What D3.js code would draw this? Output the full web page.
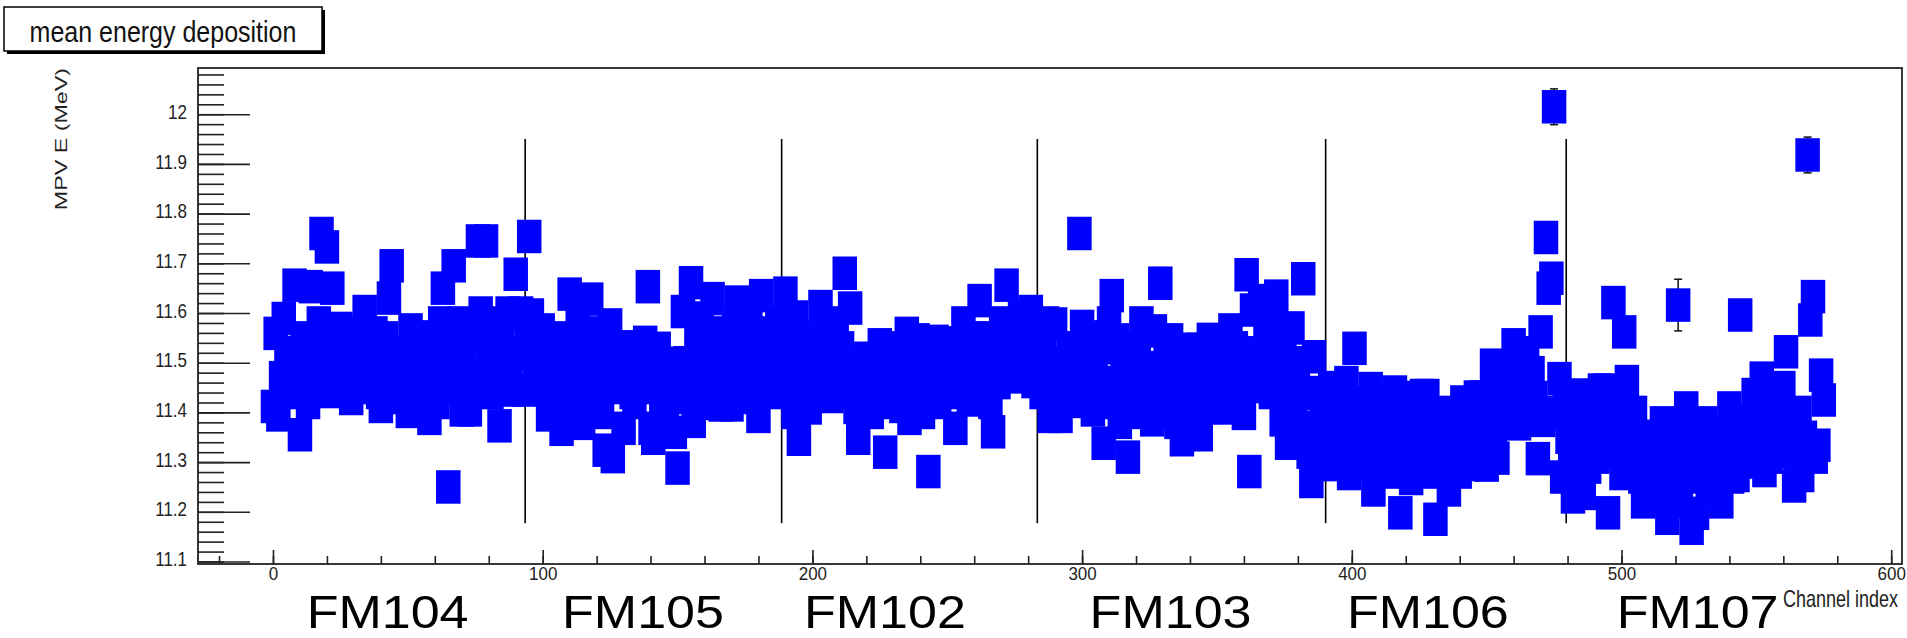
<!DOCTYPE html>
<html>
<head>
<meta charset="utf-8">
<script src="https://cdnjs.cloudflare.com/ajax/libs/d3/7.8.5/d3.min.js"></script>
<style>
  body { margin: 0; background: #fff; }
  svg { display: block; }
  text { font-family: "Liberation Sans", Arial, Helvetica, sans-serif; }
</style>
</head>
<body>
<svg id="chart" width="1907" height="638"></svg>
<script>
// MPV of the energy deposit per channel, 12 channels per row
const mpv = [
  11.412, 11.559, 11.395, 11.47, 11.589, 11.52, 11.44, 11.50, 11.656, 11.46, 11.355, 11.55,   // 0
  11.48, 11.42, 11.653, 11.52, 11.45, 11.58, 11.760, 11.49, 11.733, 11.442, 11.650, 11.53,   // 12
  11.47, 11.569, 11.50, 11.45, 11.54, 11.428, 11.49, 11.56, 11.46, 11.52, 11.603, 11.45,     // 24
  11.53, 11.48, 11.56, 11.44, 11.412, 11.50, 11.55, 11.630, 11.695, 11.47, 11.43, 11.52,     // 36
  11.45, 11.50, 11.402, 11.566, 11.46, 11.51, 11.43, 11.49, 11.552, 11.44, 11.388, 11.47,    // 48
  11.52, 11.42, 11.58, 11.650, 11.47, 11.250, 11.53, 11.695, 11.45, 11.58, 11.405, 11.50,    // 60
  11.44, 11.405, 11.55, 11.48, 11.745, 11.60, 11.46, 11.745, 11.52, 11.44, 11.58, 11.48,     // 72
  11.373, 11.54, 11.46, 11.60, 11.50, 11.445, 11.678, 11.52, 11.60, 11.445, 11.55, 11.754,   // 84
  11.596, 11.50, 11.46, 11.53, 11.566, 11.48, 11.395, 11.52, 11.45, 11.50, 11.42, 11.366,    // 96
  11.55, 11.47, 11.638, 11.52, 11.425, 11.58, 11.46, 11.378, 11.53, 11.49, 11.628, 11.44,    // 108
  11.56, 11.47, 11.40, 11.324, 11.52, 11.576, 11.311, 11.45, 11.50, 11.532, 11.368, 11.47,   // 120
  11.50, 11.44, 11.42, 11.49, 11.46, 11.51, 11.541, 11.653, 11.368, 11.348, 11.45, 11.529,   // 132
  11.41, 11.48, 11.39, 11.44, 11.499, 11.36, 11.288, 11.46, 11.603, 11.50, 11.43, 11.661,    // 144
  11.382, 11.55, 11.47, 11.59, 11.418, 11.52, 11.46, 11.629, 11.50, 11.56, 11.415, 11.48,    // 156
  11.54, 11.45, 11.415, 11.58, 11.622, 11.50, 11.44, 11.55, 11.47, 11.585, 11.43, 11.52,     // 168
  11.392, 11.635, 11.48, 11.56, 11.44, 11.452, 11.52, 11.58, 11.49, 11.55, 11.640, 11.45,    // 180
  11.51, 11.40, 11.592, 11.346, 11.47, 11.53, 11.44, 11.409, 11.55, 11.49, 11.45, 11.613,    // 192
  11.52, 11.47, 11.56, 11.432, 11.50, 11.58, 11.46, 11.53, 11.680, 11.44, 11.61, 11.50,      // 204
  11.41, 11.348, 11.46, 11.43, 11.509, 11.45, 11.40, 11.48, 11.43, 11.536, 11.46, 11.320,    // 216
  11.50, 11.42, 11.47, 11.53, 11.44, 11.412, 11.50, 11.559, 11.388, 11.48, 11.43, 11.546,    // 228
  11.47, 11.40, 11.51, 11.281, 11.45, 11.49, 11.543, 11.42, 11.48, 11.51, 11.44, 11.54,      // 240
  11.47, 11.368, 11.50, 11.45, 11.580, 11.48, 11.425, 11.52, 11.549, 11.47, 11.625, 11.44,   // 252
  11.50, 11.55, 11.42, 11.361, 11.52, 11.46, 11.58, 11.50, 11.656, 11.53, 11.472, 11.56,     // 264
  11.50, 11.59, 11.472, 11.54, 11.51, 11.603, 11.462, 11.55, 11.50, 11.44, 11.53, 11.580,    // 276
  11.392, 11.47, 11.578, 11.43, 11.392, 11.50, 11.46, 11.53, 11.422, 11.48, 11.51, 11.760,   // 288
  11.573, 11.45, 11.552, 11.48, 11.405, 11.50, 11.44, 11.53, 11.338, 11.46, 11.58, 11.635,   // 300
  11.42, 11.546, 11.38, 11.48, 11.43, 11.310, 11.50, 11.40, 11.46, 11.53, 11.580, 11.44,     // 312
  11.49, 11.41, 11.385, 11.564, 11.47, 11.660, 11.43, 11.50, 11.40, 11.546, 11.45, 11.38,    // 324
  11.49, 11.345, 11.527, 11.42, 11.47, 11.39, 11.50, 11.527, 11.355, 11.44, 11.49, 11.547,   // 336
  11.41, 11.46, 11.52, 11.43, 11.409, 11.50, 11.45, 11.566, 11.48, 11.53, 11.44, 11.50,      // 348
  11.398, 11.677, 11.281, 11.606, 11.452, 11.52, 11.625, 11.47, 11.56, 11.50, 11.44, 11.58,  // 360
  11.634, 11.48, 11.385, 11.53, 11.338, 11.45, 11.57, 11.41, 11.50, 11.37, 11.669, 11.44,    // 372
  11.32, 11.261, 11.512, 11.35, 11.438, 11.40, 11.295, 11.37, 11.45, 11.33, 11.41, 11.36,    // 384
  11.43, 11.338, 11.46, 11.277, 11.40, 11.529, 11.35, 11.42, 11.30, 11.38, 11.33, 11.448,    // 396
  11.244, 11.36, 11.41, 11.30, 11.38, 11.34, 11.42, 11.28, 11.441, 11.35, 11.198, 11.39,     // 408
  11.31, 11.43, 11.267, 11.36, 11.40, 11.30, 11.434, 11.34, 11.434, 11.28, 11.37, 11.185,    // 420
  11.32, 11.40, 11.29, 11.36, 11.244, 11.398, 11.31, 11.35, 11.28, 11.421, 11.33, 11.295,    // 432
  11.38, 11.34, 11.431, 11.32, 11.431, 11.37, 11.294, 11.40, 11.495, 11.35, 11.308, 11.44,   // 444
  11.38, 11.48, 11.41, 11.45, 11.536, 11.42, 11.377, 11.50, 11.44, 11.52, 11.40, 11.48,      // 456
  11.43, 11.307, 11.562, 11.384, 11.752, 11.65, 11.670, 12.015, 11.40, 11.468, 11.27, 11.408, // 468
  11.35, 11.30, 11.230, 11.38, 11.435, 11.32, 11.237, 11.40, 11.29, 11.36, 11.42, 11.31,     // 480
  11.445, 11.35, 11.445, 11.198, 11.38, 11.621, 11.32, 11.41, 11.277, 11.562, 11.462, 11.36, // 492
  11.30, 11.40, 11.33, 11.27, 11.220, 11.30, 11.352, 11.26, 11.33, 11.28, 11.23, 11.379,     // 504
  11.30, 11.187, 11.34, 11.25, 11.31, 11.616, 11.22, 11.36, 11.409, 11.27, 11.167, 11.33,    // 516
  11.197, 11.29, 11.35, 11.379, 11.25, 11.32, 11.28, 11.36, 11.30, 11.220, 11.34, 11.29,     // 528
  11.409, 11.270, 11.366, 11.273, 11.596, 11.33, 11.382, 11.30, 11.35, 11.436, 11.32, 11.40, // 540
  11.469, 11.283, 11.37, 11.31, 11.43, 11.35, 11.40, 11.33, 11.45, 11.522, 11.38, 11.32,     // 552
  11.252, 11.30, 11.40, 11.273, 11.35, 11.918, 11.586, 11.633, 11.31, 11.334, 11.475, 11.425 // 564
];
const channels = d3.range(mpv.length);

// only these error bars stick out of their marker
const errChannels = [475, 521, 569];
const errValues = [0.036, 0.052, 0.036];

const moduleNames = ["FM104", "FM105", "FM102", "FM103", "FM106", "FM107"];
const moduleCenters = [42.5, 137.2, 226.9, 332.8, 428.2, 528.2];
const moduleEdges = [93.5, 188.6, 283.4, 390.3, 479.5];
const edgeRange = [11.177, 11.95];

const svg = d3.select("#chart");
const frame = {left: 198, right: 1902, top: 68, bottom: 564};
const stretch = 1.2;   // the original picture is stretched vertically

const x = d3.scaleLinear().domain([-27.8, 604]).range([frame.left, frame.right]);
const y = d3.scaleLinear().domain([11.095, 12.093]).range([frame.bottom, frame.top]);

// title box with its shadow
svg.append("rect").attr("x", 7).attr("y", 10).attr("width", 318).attr("height", 44).attr("fill", "#000");
svg.append("rect").attr("x", 4).attr("y", 7).attr("width", 318).attr("height", 44)
    .attr("fill", "#fff").attr("stroke", "#000").attr("stroke-width", 1.5);
svg.append("text")
    .attr("transform", `translate(163,42) scale(1,${stretch})`)
    .attr("text-anchor", "middle").attr("font-size", 25).attr("fill", "#111")
    .text("mean energy deposition");

// frame
svg.append("rect")
    .attr("x", frame.left).attr("y", frame.top)
    .attr("width", frame.right - frame.left).attr("height", frame.bottom - frame.top)
    .attr("fill", "none").attr("stroke", "#222").attr("stroke-width", 1.8);

// y axis, minor then major ticks
const yMinor = svg.append("g").attr("transform", `translate(${frame.left},0)`)
    .call(d3.axisLeft(y).tickValues(y.ticks(50)).tickSize(-26).tickFormat(""));
const yMajor = svg.append("g").attr("transform", `translate(${frame.left},0)`)
    .call(d3.axisLeft(y).ticks(10).tickSize(-52).tickPadding(11)
        .tickFormat(d => String(+d.toFixed(1))));

// x axis
const xMinor = svg.append("g").attr("transform", `translate(0,${frame.bottom})`)
    .call(d3.axisBottom(x).tickValues(x.ticks(30)).tickSize(-8).tickFormat(""));
const xMajor = svg.append("g").attr("transform", `translate(0,${frame.bottom})`)
    .call(d3.axisBottom(x).ticks(6).tickSize(-14).tickPadding(2.5));

[yMinor, yMajor, xMinor, xMajor].forEach(g => {
    g.select(".domain").remove();
    g.selectAll(".tick line").attr("stroke", "#222").attr("stroke-width", 1.6);
});
yMajor.selectAll(".tick text")
    .attr("font-size", 17).attr("fill", "#222").attr("dy", "0.2em")
    .attr("transform", `scale(1,${stretch})`);
xMajor.selectAll(".tick text")
    .attr("font-size", 17).attr("fill", "#222")
    .attr("transform", "scale(1,1.12)");

// axis titles
svg.append("text")
    .attr("transform", "translate(1898,607) scale(1,1.3)")
    .attr("text-anchor", "end").attr("font-size", 18).attr("fill", "#222")
    .text("Channel index");
svg.append("text")
    .attr("transform", "translate(67,68) rotate(-90) scale(1.37,1)")
    .attr("text-anchor", "end").attr("font-size", 17).attr("fill", "#222")
    .text("MPV E (MeV)");

// module separators
svg.append("g").selectAll("line").data(moduleEdges).join("line")
    .attr("x1", d => x(d)).attr("x2", d => x(d))
    .attr("y1", y(edgeRange[1])).attr("y2", y(edgeRange[0]))
    .attr("stroke", "#000").attr("stroke-width", 1.6);

// error bars that are visible
const errG = svg.append("g").attr("stroke", "#111").attr("stroke-width", 1.5);
errChannels.forEach((c, i) => {
    const cx = x(c), lo = y(mpv[c] - errValues[i]), hi = y(mpv[c] + errValues[i]);
    errG.append("line").attr("x1", cx).attr("x2", cx).attr("y1", lo).attr("y2", hi);
    errG.append("line").attr("x1", cx - 4).attr("x2", cx + 4).attr("y1", lo).attr("y2", lo);
    errG.append("line").attr("x1", cx - 4).attr("x2", cx + 4).attr("y1", hi).attr("y2", hi);
});

// markers: full squares, stretched like the picture
svg.append("g").selectAll("rect").data(channels).join("rect")
    .attr("x", c => x(c) - 12.25)
    .attr("y", c => y(mpv[c]) - 16.75)
    .attr("width", 24.5).attr("height", 33.5)
    .attr("fill", "#0000ff");

// module names under the axis, widened to the original width
svg.append("g").selectAll("text").data(moduleNames).join("text")
    .attr("transform", (d, i) => `translate(${x(moduleCenters[i])},627.5) scale(1.107,1)`)
    .attr("text-anchor", "middle").attr("font-size", 47).attr("fill", "#000")
    .text(d => d);
</script>
</body>
</html>
